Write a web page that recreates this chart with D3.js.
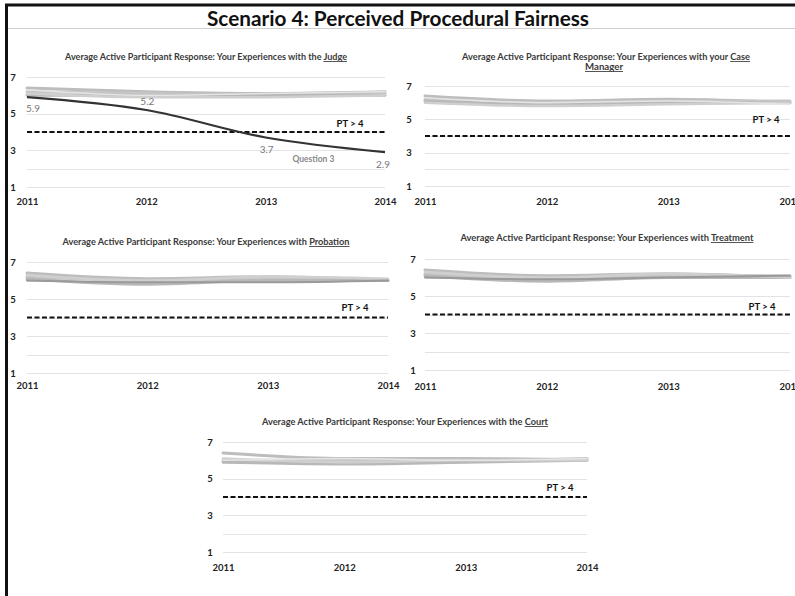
<!DOCTYPE html>
<html>
<head>
<meta charset="utf-8">
<script src="https://cdn.jsdelivr.net/npm/d3@7/dist/d3.min.js"></script>
<style>
  html, body { margin: 0; padding: 0; background: #fff; }
  svg { display: block; font-family: Lato, "Open Sans", sans-serif; }
</style>
</head>
<body>
<svg id="chart" width="795" height="596"></svg>
<script>
// ---------------- DATA ----------------
const years = [2011, 2012, 2013, 2014];
const yTickLabels = [1, 3, 5, 7];
const gridValues = [1, 2, 3, 4, 5, 6, 7];
const threshold = [4, 4, 4, 4];
const thresholdLabel = "PT > 4";
const mainTitle = "Scenario 4: Perceived Procedural Fairness";

const titleJudge = ["Average Active Participant Response: Your Experiences with the ", "Judge"];
const titleCase = ["Average Active Participant Response: Your Experiences with your ", "Case", "Manager"];
const titleProbation = ["Average Active Participant Response: Your Experiences with ", "Probation"];
const titleTreatment = ["Average Active Participant Response: Your Experiences with ", "Treatment"];
const titleCourt = ["Average Active Participant Response: Your Experiences with the ", "Court"];

// Judge panel
const judgeQuestion3 = [5.9, 5.2, 3.7, 2.9];
const judgeQ1 = [6.4, 6.2, 6.1, 6.2];
const judgeQ2 = [6.2, 6.1, 6.0, 6.1];
const judgeQ4 = [6.0, 6.0, 6.0, 6.0];
const judgeQ5 = [6.3, 6.0, 6.1, 6.2];
const judgeQ6 = [6.1, 5.9, 5.9, 6.0];
const judgeQ3Label = "Question 3";

// Case Manager panel
const caseQ1 = [6.4, 6.1, 6.2, 6.0];
const caseQ2 = [6.2, 6.0, 6.1, 6.1];
const caseQ3 = [6.1, 5.9, 6.0, 6.0];
const caseQ4 = [6.3, 6.0, 6.1, 5.9];
const caseQ5 = [6.0, 5.8, 5.9, 6.0];

// Probation panel
const probQ1 = [6.4, 6.1, 6.2, 6.0];
const probQ2 = [6.2, 6.0, 6.1, 6.0];
const probQ3 = [6.1, 5.8, 6.0, 6.0];
const probQ4 = [6.3, 6.0, 6.2, 6.1];
const probQ5 = [6.0, 5.9, 5.9, 6.0];

// Treatment panel
const treatQ1 = [6.4, 6.1, 6.2, 6.0];
const treatQ2 = [6.2, 5.9, 6.1, 6.1];
const treatQ3 = [6.1, 5.8, 6.0, 6.0];
const treatQ4 = [6.3, 6.0, 6.2, 6.0];
const treatQ5 = [6.0, 5.9, 6.0, 6.1];

// Court panel
const courtQ1 = [6.4, 6.1, 6.1, 6.0];
const courtQ2 = [6.0, 6.0, 6.0, 6.1];
const courtQ3 = [5.9, 5.8, 5.9, 6.0];
const courtQ4 = [6.1, 5.9, 6.0, 6.0];
const courtQ5 = [6.0, 6.1, 6.0, 6.1];

// ---------------- LAYOUT ----------------
const grayStyles = [
  { c: "#bdbdbd", w: 3 },
  { c: "#c6c6c6", w: 3 },
  { c: "#b8b8b8", w: 3 },
  { c: "#cfcfcf", w: 2.5 },
  { c: "#e4e4e4", w: 1.5 }
];

const panels = [
  { title: titleJudge, x0: 27, x1: 385, yTop: 77, yBot: 187, ylx: 13, yearY: 204, tY: 60, tX: 206, tW: 282,
    series: [judgeQ1, judgeQ2, judgeQ4, judgeQ6, judgeQ5], ptDx: -35, ptDy: -5, judge: true },
  { title: titleCase, x0: 425, x1: 790, yTop: 86, yBot: 186, ylx: 409, yearY: 204, tY: 60, tX: 606, tW: 288,
    series: [caseQ1, caseQ2, caseQ3, caseQ5, caseQ4], ptDx: -24, ptDy: -13 },
  { title: titleProbation, x0: 27, x1: 388, yTop: 262, yBot: 373, ylx: 13, yearY: 388, tY: 245, tX: 206, tW: 287,
    series: [probQ1, probQ2, probQ3, probQ4, probQ5], ptDx: -33, ptDy: -7, darkLast: true },
  { title: titleTreatment, x0: 425, x1: 790, yTop: 259, yBot: 370, ylx: 413, yearY: 389, tY: 241, tX: 607, tW: 293,
    series: [treatQ1, treatQ2, treatQ3, treatQ4, treatQ5], ptDx: -28, ptDy: -5, darkLast: true },
  { title: titleCourt, x0: 223, x1: 587, yTop: 442, yBot: 552, ylx: 210, yearY: 570, tY: 425, tX: 405, tW: 286,
    series: [courtQ1, courtQ2, courtQ3, courtQ4, courtQ5], ptDx: -27, ptDy: -6 }
];

// ---------------- DRAW ----------------
const svg = d3.select("#chart");

// frame
svg.append("line").attr("x1", 5).attr("x2", 795).attr("y1", 5).attr("y2", 5)
  .attr("stroke", "#111").attr("stroke-width", 3);
svg.append("line").attr("x1", 6.5).attr("x2", 6.5).attr("y1", 4).attr("y2", 596)
  .attr("stroke", "#111").attr("stroke-width", 3);
svg.append("line").attr("x1", 8).attr("x2", 795).attr("y1", 28.5).attr("y2", 28.5)
  .attr("stroke", "#cfcfcf").attr("stroke-width", 1);

svg.append("text").attr("x", 398).attr("y", 26).attr("text-anchor", "middle")
  .attr("font-size", 21).attr("font-weight", "bold").attr("fill", "#111")
  .attr("textLength", 382).attr("lengthAdjust", "spacingAndGlyphs")
  .text(mainTitle);

panels.forEach(p => {
  const g = svg.append("g");
  const x = d3.scaleLinear().domain([2011, 2014]).range([p.x0, p.x1]);
  const y = d3.scaleLinear().domain([1, 7]).range([p.yBot, p.yTop]);

  // gridlines
  g.selectAll(".grid").data(gridValues).join("line")
    .attr("x1", p.x0).attr("x2", p.x1)
    .attr("y1", d => Math.round(y(d)) + 0.5).attr("y2", d => Math.round(y(d)) + 0.5)
    .attr("stroke", "#e3e3e3").attr("stroke-width", 1);

  // y labels
  g.selectAll(".ylab").data(yTickLabels).join("text")
    .attr("x", p.ylx).attr("y", d => y(d) + 3.5)
    .attr("text-anchor", "middle").attr("font-size", 9.5).attr("font-weight", "bold")
    .attr("fill", "#222").text(d => d);

  // x labels via axis
  const xAxis = d3.axisBottom(x).tickValues(years).tickFormat(d3.format("d")).tickSize(0);
  const ax = g.append("g").attr("transform", `translate(0,${p.yearY - 9})`).call(xAxis);
  ax.select(".domain").remove();
  ax.selectAll("text").attr("font-size", 9.5).attr("font-weight", "bold")
    .attr("fill", "#222").attr("font-family", "Lato, sans-serif").attr("dy", "0.71em");

  // title
  const t = g.append("text").attr("x", p.tX).attr("y", p.tY).attr("text-anchor", "middle")
    .attr("font-size", 8.6).attr("font-weight", "bold").attr("fill", "#3a3a3a")
    .attr("textLength", p.tW).attr("lengthAdjust", "spacingAndGlyphs");
  t.append("tspan").text(p.title[0]);
  t.append("tspan").attr("text-decoration", "underline").text(p.title[1]);
  if (p.title.length > 2) {
    g.append("text").attr("x", p.tX - 2).attr("y", p.tY + 10).attr("text-anchor", "middle")
      .attr("font-size", 8.6).attr("font-weight", "bold").attr("fill", "#3a3a3a")
      .attr("text-decoration", "underline")
      .attr("textLength", 38).attr("lengthAdjust", "spacingAndGlyphs")
      .text(p.title[2]);
  }

  const line = d3.line().x((d, i) => x(years[i])).y(d => y(d)).curve(d3.curveMonotoneX);

  // threshold dashed
  g.append("path").attr("d", line(threshold)).attr("fill", "none")
    .attr("stroke", "#111").attr("stroke-width", 2).attr("stroke-dasharray", "5,2.5");
  g.append("text").attr("x", p.x1 + p.ptDx).attr("y", y(4) + p.ptDy)
    .attr("text-anchor", "middle").attr("font-size", 9.5).attr("font-weight", "bold")
    .attr("fill", "#111").text(thresholdLabel);

  // gray series
  p.series.forEach((s, i) => {
    const st = grayStyles[i];
    g.append("path").attr("d", line(s)).attr("fill", "none")
      .attr("stroke", (p.darkLast && i === p.series.length - 1) ? "#9a9a9a" : st.c)
      .attr("stroke-width", (p.darkLast && i === p.series.length - 1) ? 2 : st.w)
      .attr("stroke-linecap", "round");
  });

  if (p.judge) {
    g.append("path").attr("d", line(judgeQuestion3)).attr("fill", "none")
      .attr("stroke", "#333").attr("stroke-width", 2.2);
    const offs = [[6, 15], [1, -5], [1, 15], [-2, 16]];
    g.selectAll(".dl").data(judgeQuestion3).join("text")
      .attr("x", (d, i) => x(years[i]) + offs[i][0])
      .attr("y", (d, i) => y(d) + offs[i][1])
      .attr("text-anchor", "middle").attr("font-size", 10).attr("fill", "#777")
      .text(d => d3.format(".1f")(d));
    g.append("text").attr("x", x(2013.4)).attr("y", y(judgeQuestion3[2]) + 24)
      .attr("text-anchor", "middle").attr("font-size", 8.5).attr("font-weight", "bold")
      .attr("fill", "#888").text(judgeQ3Label);
  }
});
</script>
</body>
</html>
